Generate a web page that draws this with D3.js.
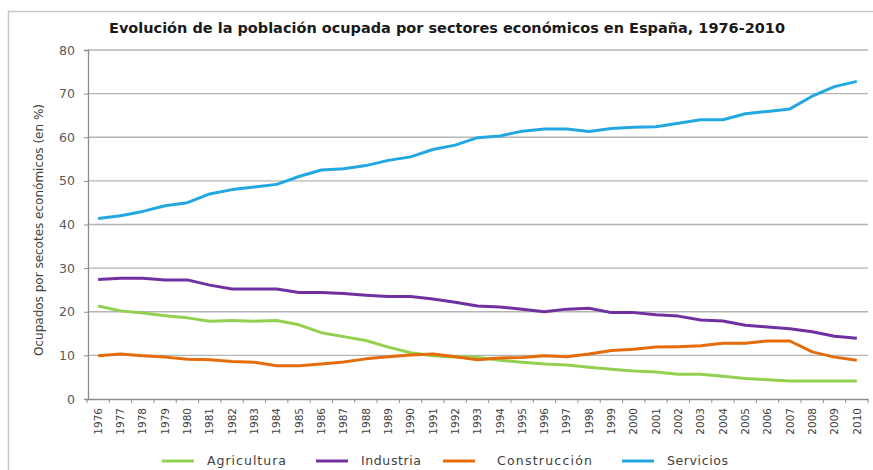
<!DOCTYPE html>
<html>
<head>
<meta charset="utf-8">
<script src="https://cdn.jsdelivr.net/npm/d3@7"></script>
<style>
  body { margin: 0; background: #fff; }
  text { font-family: "DejaVu Sans", sans-serif; }
</style>
</head>
<body>
<div id="chart"></div>
<script>
var width = 873;
var height = 470;

var years = d3.range(1976, 2011).map(String);

var agricultura = [21.3, 20.2, 19.7, 19.1, 18.6, 17.8, 18.0, 17.8, 18.0, 17.0,
    15.2, 14.3, 13.4, 11.9, 10.6, 9.9, 9.6, 9.6, 8.9, 8.4,
    8.0, 7.8, 7.3, 6.8, 6.4, 6.2, 5.7, 5.7, 5.2, 4.7,
    4.4, 4.1, 4.1, 4.1, 4.1];
var industria = [27.4, 27.7, 27.7, 27.3, 27.3, 26.1, 25.2, 25.2, 25.2, 24.4,
    24.4, 24.2, 23.8, 23.5, 23.5, 22.9, 22.2, 21.3, 21.1, 20.6,
    20.0, 20.6, 20.8, 19.8, 19.8, 19.3, 19.0, 18.1, 17.9, 16.9,
    16.5, 16.1, 15.4, 14.4, 13.9];
var construccion = [9.9, 10.3, 9.9, 9.6, 9.1, 9.0, 8.6, 8.4, 7.6, 7.6,
    8.0, 8.5, 9.2, 9.7, 10.1, 10.3, 9.7, 9.0, 9.4, 9.5,
    9.9, 9.7, 10.3, 11.1, 11.4, 11.9, 12.0, 12.2, 12.8, 12.8,
    13.3, 13.3, 10.8, 9.6, 8.9];
var servicios = [41.4, 42.0, 43.0, 44.3, 45.0, 47.0, 48.0, 48.6, 49.2, 51.0,
    52.5, 52.8, 53.5, 54.7, 55.5, 57.2, 58.2, 59.9, 60.3, 61.4,
    61.9, 61.9, 61.3, 62.0, 62.3, 62.4, 63.2, 64.0, 64.0, 65.4,
    65.9, 66.5, 69.4, 71.6, 72.8];

var seriesNames = ["Agricultura", "Industria", "Construcción", "Servicios"];
var seriesColors = ["#92d050", "#7030a0", "#e46c0a", "#22a7e0"];
var seriesValues = [agricultura, industria, construccion, servicios];

var yTicks = [0, 10, 20, 30, 40, 50, 60, 70, 80];

var svg = d3.select("#chart")
    .append("svg")
    .attr("width", width)
    .attr("height", height);

// outer frame
svg.append("rect")
    .attr("x", 8.5)
    .attr("y", 11.5)
    .attr("width", width)
    .attr("height", height)
    .attr("fill", "none")
    .attr("stroke", "#c8c8c8")
    .attr("stroke-width", 1.5);

svg.append("text")
    .attr("x", 447)
    .attr("y", 33)
    .attr("text-anchor", "middle")
    .attr("font-size", 14.5)
    .attr("font-weight", "bold")
    .attr("fill", "#1a1a1a")
    .attr("textLength", 676)
    .attr("lengthAdjust", "spacingAndGlyphs")
    .text("Evolución de la población ocupada por sectores económicos en España, 1976-2010");

var x = d3.scaleBand()
    .domain(years)
    .range([87, 868])
    .padding(0);

var y = d3.scaleLinear()
    .domain([0, 80])
    .range([399, 50]);

// gridlines
svg.append("g")
    .selectAll("line")
    .data(yTicks.filter(function(d) { return d > 0; }))
    .enter()
    .append("line")
    .attr("x1", 88)
    .attr("x2", 868)
    .attr("y1", function(d) { return y(d); })
    .attr("y2", function(d) { return y(d); })
    .attr("stroke", "#b4b4b4")
    .attr("stroke-width", 1.3);

var yAxis = svg.append("g")
    .attr("transform", "translate(88,0)")
    .call(d3.axisLeft(y).tickValues(yTicks).tickSize(4).tickPadding(9));
yAxis.select(".domain").attr("stroke", "#8c8c8c").attr("stroke-width", 1.3);
yAxis.selectAll(".tick line").attr("stroke", "#8c8c8c");
yAxis.selectAll("text")
    .attr("font-family", "DejaVu Sans, sans-serif")
    .attr("font-size", 12.5)
    .attr("fill", "#595959");

var xAxis = svg.append("g")
    .attr("transform", "translate(0,399)")
    .call(d3.axisBottom(x).tickSize(0).tickPadding(0));
xAxis.select(".domain").attr("stroke", "#8c8c8c").attr("stroke-width", 1.3);
xAxis.selectAll(".tick text")
    .attr("font-family", "DejaVu Sans, sans-serif")
    .attr("font-size", 10.5)
    .attr("fill", "#404040")
    .attr("text-anchor", "end")
    .attr("dy", "0.35em")
    .attr("transform", "translate(0,9) rotate(-90)");

// x ticks at band boundaries
svg.append("g")
    .selectAll("line")
    .data(years.concat(["end"]))
    .enter()
    .append("line")
    .attr("x1", function(d, i) { return 87 + i * x.bandwidth(); })
    .attr("x2", function(d, i) { return 87 + i * x.bandwidth(); })
    .attr("y1", 399)
    .attr("y2", 403)
    .attr("stroke", "#8c8c8c");

svg.append("text")
    .attr("transform", "translate(43,230) rotate(-90)")
    .attr("text-anchor", "middle")
    .attr("font-size", 12)
    .attr("fill", "#404040")
    .text("Ocupados por secotes económicos (en %)");

var line = d3.line()
    .x(function(d, i) { return x(years[i]) + x.bandwidth() / 2; })
    .y(function(d) { return y(d); });

seriesValues.forEach(function(vals, k) {
    svg.append("path")
        .datum(vals)
        .attr("fill", "none")
        .attr("stroke", seriesColors[k])
        .attr("stroke-width", 3)
        .attr("stroke-linejoin", "round")
        .attr("d", line);
});

// legend
var legendX = [162, 316, 443, 622];
var legendTextW = [79, 60, 95, 61];
var legend = svg.append("g")
    .selectAll("g")
    .data(seriesNames)
    .enter()
    .append("g")
    .attr("transform", function(d, i) { return "translate(" + legendX[i] + ",461)"; });
legend.append("line")
    .attr("x1", 0)
    .attr("x2", 32)
    .attr("stroke", function(d, i) { return seriesColors[i]; })
    .attr("stroke-width", 3);
legend.append("text")
    .attr("x", function(d, i) { return i == 2 ? 54 : 45; })
    .attr("dy", "0.35em")
    .attr("font-size", 12.5)
    .attr("fill", "#404040")
    .attr("textLength", function(d, i) { return legendTextW[i]; })
    .attr("lengthAdjust", "spacing")
    .text(function(d) { return d; });
</script>
</body>
</html>
